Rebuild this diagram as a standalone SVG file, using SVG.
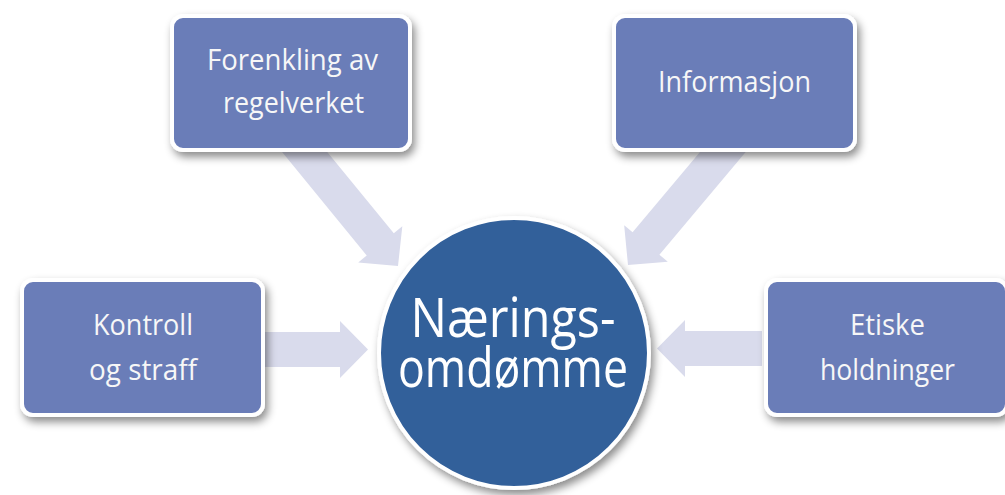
<svg xmlns="http://www.w3.org/2000/svg" width="1005" height="495" viewBox="0 0 1005 495">
<defs>
<filter id="sh" x="-20%" y="-20%" width="140%" height="150%">
<feDropShadow dx="3" dy="5" stdDeviation="4" flood-color="#000" flood-opacity="0.45"/>
</filter>
<path id="arr" d="M0,-17.5 L77,-17.5 L77,-28.5 L105,0 L77,28.5 L77,17.5 L0,17.5 Z"/>
<path id="arrLong" d="M0,-17.5 L162,-17.5 L162,-28.5 L190,0 L162,28.5 L162,17.5 L0,17.5 Z"/>
</defs>
<style>
.box{fill:#6b7db8;stroke:#ffffff;stroke-width:4;filter:url(#sh)}
.arr{fill:#d9dbec}
.t{font-family:"Open Sans","DejaVu Sans",sans-serif;font-size:29px;fill:#f7f7f7;text-anchor:middle}
.big{font-family:"Open Sans","DejaVu Sans",sans-serif;font-size:54px;fill:#ffffff;text-anchor:middle}
</style>
<rect width="1005" height="495" fill="#ffffff"/>
<g id="connectors">
<use href="#arr" class="arr" transform="translate(263,349.5)"/>
<use href="#arr" class="arr" transform="translate(762,348.5) rotate(180)"/>
<use href="#arrLong" class="arr" transform="translate(398,266) rotate(50.7) translate(-190,0)"/>
<use href="#arrLong" class="arr" transform="translate(628,265) rotate(130) translate(-190,0)"/>
</g>
<g id="box-forenkling">
<rect class="box" x="172" y="16" width="238" height="134" rx="11"/>
<text class="t" x="292.5" y="70" textLength="171" lengthAdjust="spacingAndGlyphs">Forenkling av</text>
<text class="t" x="293.5" y="113" textLength="141" lengthAdjust="spacingAndGlyphs">regelverket</text>
</g>
<g id="box-informasjon">
<rect class="box" x="614" y="16" width="241" height="134" rx="11"/>
<text class="t" x="734.5" y="92" textLength="153" lengthAdjust="spacingAndGlyphs">Informasjon</text>
</g>
<g id="box-kontroll">
<rect class="box" x="22" y="280" width="241" height="135" rx="11"/>
<text class="t" x="143" y="335" textLength="100" lengthAdjust="spacingAndGlyphs">Kontroll</text>
<text class="t" x="143" y="380" textLength="108" lengthAdjust="spacingAndGlyphs">og straff</text>
</g>
<g id="box-etiske">
<rect class="box" x="766" y="280" width="241" height="135" rx="11"/>
<text class="t" x="887.5" y="335" textLength="75" lengthAdjust="spacingAndGlyphs">Etiske</text>
<text class="t" x="887.5" y="380" textLength="135" lengthAdjust="spacingAndGlyphs">holdninger</text>
</g>
<g id="center">
<circle cx="514" cy="353" r="135" fill="#33609a" stroke="#ffffff" stroke-width="4" filter="url(#sh)"/>
<text class="big"><tspan x="513" y="337" textLength="205" lengthAdjust="spacingAndGlyphs">Nærings-</tspan><tspan x="513" y="387" textLength="230" lengthAdjust="spacingAndGlyphs">omdømme</tspan></text>
</g>
</svg>
